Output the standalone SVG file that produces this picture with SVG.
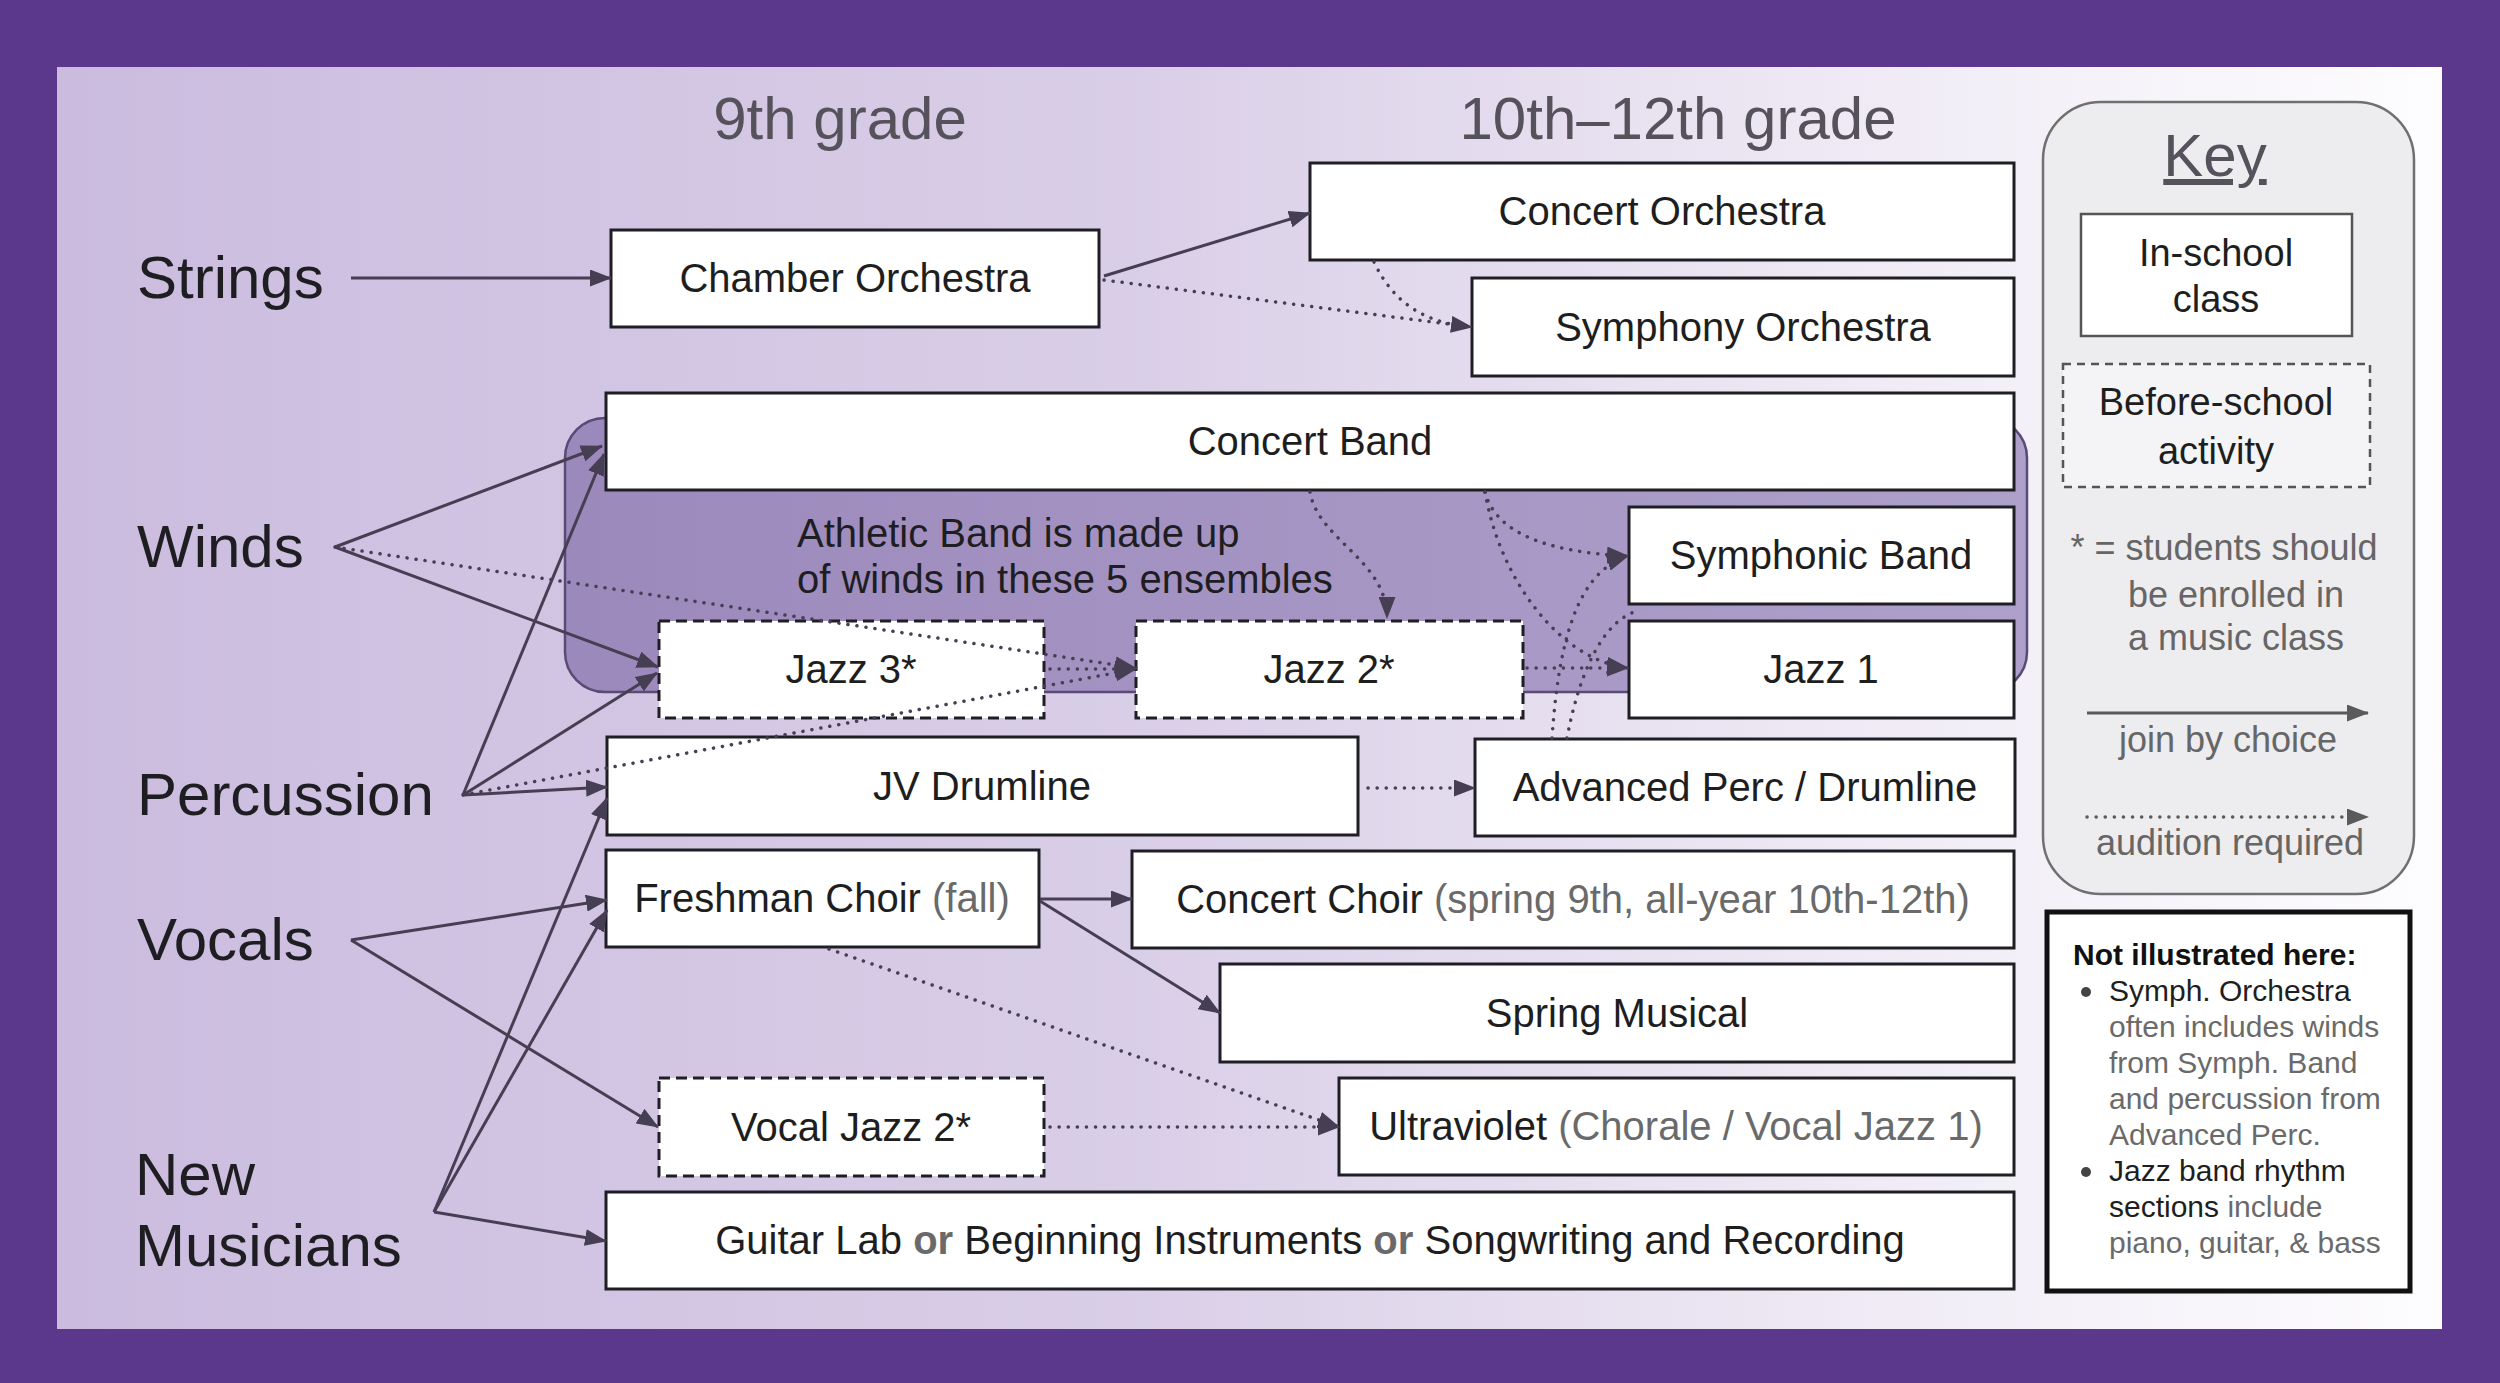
<svg xmlns="http://www.w3.org/2000/svg" width="2500" height="1383" viewBox="0 0 2500 1383">
<defs>
<linearGradient id="bg" x1="0" y1="0" x2="1" y2="0">
<stop offset="0" stop-color="#CBBCDF"/>
<stop offset="0.45" stop-color="#D9CEE7"/>
<stop offset="0.8" stop-color="#F2EEF7"/>
<stop offset="1" stop-color="#FDFCFE"/>
</linearGradient>
<linearGradient id="ath" x1="0" y1="0" x2="1" y2="0">
<stop offset="0" stop-color="#9C89BC"/>
<stop offset="1" stop-color="#ADA0CA"/>
</linearGradient>
<marker id="ah" markerUnits="userSpaceOnUse" markerWidth="22" markerHeight="17" refX="21" refY="8.5" orient="auto">
<path d="M0,0 L22,8.5 L0,17 z" fill="#463E53"/>
</marker>
<marker id="ahk" markerUnits="userSpaceOnUse" markerWidth="22" markerHeight="17" refX="21" refY="8.5" orient="auto">
<path d="M0,0 L22,8.5 L0,17 z" fill="#5A5A5A"/>
</marker>
</defs>
<style>
text{font-family:"Liberation Sans",Arial,sans-serif}
.box{fill:#FFFFFF;stroke:#1E1E24;stroke-width:3}
.dbox{fill:#FFFFFF;stroke:#1E1E24;stroke-width:3;stroke-dasharray:11 6}
.t{font-size:40px;fill:#1E1E1E;text-anchor:middle}
.g{fill:#6A6A6A}
.lbl{font-size:60px;fill:#1E1E22}
.head{font-size:60px;fill:#55525C;text-anchor:middle}
.c{fill:none;stroke:#463E53;stroke-width:3;marker-end:url(#ah)}
.d{fill:none;stroke:#463E53;stroke-width:3.5;stroke-dasharray:0.1 9;stroke-linecap:round;marker-end:url(#ah)}
.dn{fill:none;stroke:#463E53;stroke-width:3.5;stroke-dasharray:0.1 9;stroke-linecap:round}
.kt{font-size:36px;fill:#666666;text-anchor:middle}
.nt{font-size:30px;fill:#6A6A6A}
.nd{fill:#1E1E1E}
</style>
<rect x="0" y="0" width="2500" height="1383" fill="#5B388C"/>
<rect x="57" y="67" width="2385" height="1262" fill="url(#bg)"/>

<g id="headings">
<text class="head" x="840" y="139">9th grade</text>
<text class="head" x="1678" y="139">10th–12th grade</text>
</g>

<g id="labels">
<text class="lbl" x="137" y="298">Strings</text>
<text class="lbl" x="137" y="567">Winds</text>
<text class="lbl" x="137" y="815">Percussion</text>
<text class="lbl" x="137" y="960">Vocals</text>
<text class="lbl" x="135" y="1195">New</text>
<text class="lbl" x="135" y="1266">Musicians</text>
</g>

<g id="athletic-band">
<rect x="565" y="418" width="1462" height="274" rx="40" ry="40" fill="url(#ath)" stroke="#5A4A76" stroke-width="2.5"/>
<text x="797" y="547" style="font-size:40px;fill:#1E1E22">Athletic Band is made up</text>
<text x="797" y="593" style="font-size:40px;fill:#1E1E22">of winds in these 5 ensembles</text>
</g>

<g id="chamber-orchestra"><rect class="box" x="611" y="230" width="488" height="97"/><text class="t" x="855" y="292">Chamber Orchestra</text></g>
<g id="concert-orchestra"><rect class="box" x="1310" y="163" width="704" height="97"/><text class="t" x="1662" y="225">Concert Orchestra</text></g>
<g id="symphony-orchestra"><rect class="box" x="1472" y="278" width="542" height="98"/><text class="t" x="1743" y="341">Symphony Orchestra</text></g>
<g id="concert-band"><rect class="box" x="606" y="393" width="1408" height="97"/><text class="t" x="1310" y="455">Concert Band</text></g>
<g id="symphonic-band"><rect class="box" x="1629" y="507" width="385" height="97"/><text class="t" x="1821" y="569">Symphonic Band</text></g>
<g id="jazz-1"><rect class="box" x="1629" y="621" width="385" height="97"/><text class="t" x="1821" y="683">Jazz 1</text></g>
<g id="jazz-3"><rect class="dbox" x="659" y="621" width="385" height="97"/><text class="t" x="851" y="683">Jazz 3*</text></g>
<g id="jazz-2"><rect class="dbox" x="1136" y="621" width="387" height="97"/><text class="t" x="1329" y="683">Jazz 2*</text></g>
<g id="jv-drumline"><rect class="box" x="607" y="737" width="751" height="98"/><text class="t" x="982" y="800">JV Drumline</text></g>
<g id="advanced-perc"><rect class="box" x="1475" y="739" width="540" height="97"/><text class="t" x="1745" y="801">Advanced Perc / Drumline</text></g>
<g id="freshman-choir"><rect class="box" x="606" y="850" width="433" height="97"/><text class="t" x="822" y="912">Freshman Choir <tspan class="g">(fall)</tspan></text></g>
<g id="concert-choir"><rect class="box" x="1132" y="851" width="882" height="97"/><text class="t" x="1573" y="913">Concert Choir <tspan class="g">(spring 9th, all-year 10th-12th)</tspan></text></g>
<g id="spring-musical"><rect class="box" x="1220" y="964" width="794" height="98"/><text class="t" x="1617" y="1027">Spring Musical</text></g>
<g id="vocal-jazz-2"><rect class="dbox" x="659" y="1078" width="385" height="98"/><text class="t" x="851" y="1141">Vocal Jazz 2*</text></g>
<g id="ultraviolet"><rect class="box" x="1339" y="1078" width="675" height="97"/><text class="t" x="1676" y="1140">Ultraviolet <tspan class="g">(Chorale / Vocal Jazz 1)</tspan></text></g>
<g id="guitar-lab"><rect class="box" x="606" y="1192" width="1408" height="97"/><text class="t" x="1310" y="1254">Guitar Lab <tspan class="g" font-weight="bold">or</tspan> Beginning Instruments <tspan class="g" font-weight="bold">or</tspan> Songwriting and Recording</text></g>

<g id="key">
<rect x="2043" y="102" width="371" height="792" rx="58" ry="58" fill="#EDECEF" stroke="#707070" stroke-width="2.5"/>
<text x="2215" y="176" style="font-size:60px;fill:#55525C;text-anchor:middle;text-decoration:underline">Key</text>
<rect x="2081" y="214" width="271" height="122" fill="#FFFFFF" stroke="#555555" stroke-width="2.5"/>
<text x="2216" y="266" style="font-size:38px;fill:#1E1E1E;text-anchor:middle">In-school</text>
<text x="2216" y="312" style="font-size:38px;fill:#1E1E1E;text-anchor:middle">class</text>
<rect x="2063" y="364" width="307" height="123" fill="#F4F4F6" stroke="#555555" stroke-width="2.5" stroke-dasharray="8 6"/>
<text x="2216" y="415" style="font-size:38px;fill:#1E1E1E;text-anchor:middle">Before-school</text>
<text x="2216" y="464" style="font-size:38px;fill:#1E1E1E;text-anchor:middle">activity</text>
<text class="kt" x="2224" y="560">* = students should</text>
<text class="kt" x="2236" y="607">be enrolled in</text>
<text class="kt" x="2236" y="650">a music class</text>
<line x1="2087" y1="713" x2="2368" y2="713" stroke="#5A5A5A" stroke-width="3" marker-end="url(#ahk)"/>
<text class="kt" x="2228" y="752">join by choice</text>
<line x1="2087" y1="817" x2="2368" y2="817" stroke="#5A5A5A" stroke-width="3.5" stroke-dasharray="0.1 9" stroke-linecap="round" marker-end="url(#ahk)"/>
<text class="kt" x="2230" y="855">audition required</text>
</g>

<g id="not-illustrated">
<rect x="2047" y="912" width="363" height="379" fill="#FFFFFF" stroke="#111111" stroke-width="5"/>
<text x="2073" y="965" style="font-size:30px;font-weight:bold;fill:#111111">Not illustrated here:</text>
<circle cx="2086" cy="992" r="5" fill="#444444"/>
<text class="nt" x="2109" y="1001"><tspan class="nd">Symph. Orchestra</tspan></text>
<text class="nt" x="2109" y="1037">often includes winds</text>
<text class="nt" x="2109" y="1073">from Symph. Band</text>
<text class="nt" x="2109" y="1109">and percussion from</text>
<text class="nt" x="2109" y="1145">Advanced Perc.</text>
<circle cx="2086" cy="1172" r="5" fill="#444444"/>
<text class="nt" x="2109" y="1181"><tspan class="nd">Jazz band rhythm</tspan></text>
<text class="nt" x="2109" y="1217"><tspan class="nd">sections</tspan> include</text>
<text class="nt" x="2109" y="1253">piano, guitar, &amp; bass</text>
</g>

<g id="connectors">
<line class="c" x1="351" y1="278" x2="611" y2="278"/>
<line class="c" x1="1104" y1="276" x2="1310" y2="213"/>
<line class="d" x1="1104" y1="280" x2="1472" y2="327"/>
<path class="dn" d="M1374,262 C1392,300 1420,320 1462,326"/>
<line class="c" x1="335" y1="547" x2="602" y2="446"/>
<line class="c" x1="335" y1="547" x2="658" y2="667"/>
<line class="d" x1="335" y1="547" x2="1136" y2="668"/>
<line class="c" x1="463" y1="795" x2="604" y2="454"/>
<line class="c" x1="463" y1="795" x2="657" y2="673"/>
<line class="c" x1="463" y1="795" x2="607" y2="787"/>
<line class="d" x1="463" y1="795" x2="1136" y2="669"/>
<line class="d" x1="1050" y1="669" x2="1136" y2="669"/>
<path class="d" d="M1310,492 C1318,540 1387,560 1387,618"/>
<path class="d" d="M1485,492 C1495,530 1540,552 1628,556"/>
<path class="d" d="M1485,492 C1500,580 1560,660 1628,668"/>
<line class="d" x1="1527" y1="668" x2="1628" y2="668"/>
<path class="d" d="M1552,738 C1560,620 1585,570 1628,556"/>
<path class="dn" d="M1567,738 C1578,680 1600,620 1640,610"/>
<line class="d" x1="1368" y1="788" x2="1475" y2="788"/>
<line class="c" x1="351" y1="940" x2="607" y2="900"/>
<line class="c" x1="351" y1="940" x2="658" y2="1127"/>
<line class="c" x1="434" y1="1212" x2="607" y2="798"/>
<line class="c" x1="434" y1="1212" x2="607" y2="910"/>
<line class="c" x1="434" y1="1212" x2="606" y2="1241"/>
<line class="c" x1="1040" y1="899" x2="1132" y2="899"/>
<line class="c" x1="1040" y1="901" x2="1220" y2="1013"/>
<line class="d" x1="829" y1="949" x2="1339" y2="1127"/>
<line class="d" x1="1050" y1="1127" x2="1339" y2="1127"/>
</g>
</svg>
